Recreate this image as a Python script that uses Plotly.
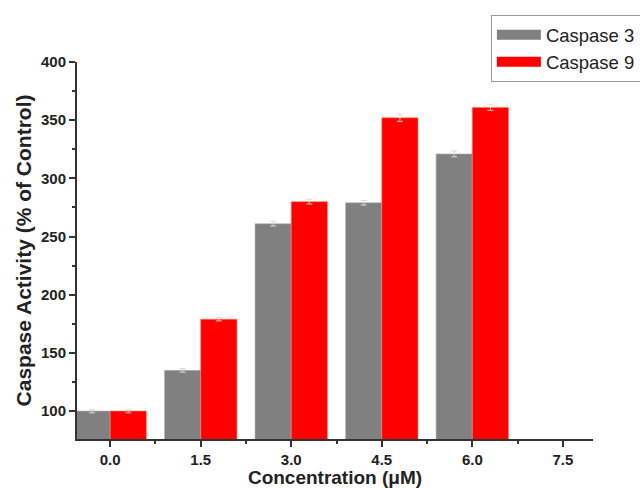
import plotly.graph_objects as go

concentrations = [0.0, 1.5, 3.0, 4.5, 6.0]
caspase3 = [100, 135, 261, 279, 321]
caspase9 = [100, 179, 280, 352, 361]
err3 = [1.5, 1.5, 2, 2, 2.5]
err9 = [1.5, 1.5, 2, 3, 2.5]
x_ticks = [0.0, 1.5, 3.0, 4.5, 6.0, 7.5]
y_ticks = [100, 150, 200, 250, 300, 350, 400]
series_names = ["Caspase 3", "Caspase 9"]
series_colors = ["#808080", "#ff0000"]

font_family = "Liberation Sans, Arial, sans-serif"

fig = go.Figure()
fig.add_trace(go.Bar(
    x=concentrations, y=caspase3, name=series_names[0], legendgroup="c3",
    showlegend=False,
    marker=dict(color=series_colors[0], line=dict(color="#b0b0b0", width=0.6)),
    error_y=dict(type="data", array=err3, color="#d8d8d8", thickness=1, width=3),
))
fig.add_trace(go.Bar(
    x=concentrations, y=caspase9, name=series_names[1], legendgroup="c9",
    showlegend=False,
    marker=dict(color=series_colors[1], line=dict(color="#ff8060", width=0.6)),
    error_y=dict(type="data", array=err9, color="#ffd0d0", thickness=1, width=3),
))
# legend entries drawn as wide rectangular swatches (thick line keys)
for name, color, grp in zip(series_names, series_colors, ["c3", "c9"]):
    fig.add_trace(go.Scatter(
        x=[None], y=[None], mode="lines", name=name, legendgroup=grp,
        line=dict(color=color, width=14), hoverinfo="skip",
    ))

fig.update_layout(
    width=640, height=488,
    margin=dict(l=77, r=47, t=62, b=49, autoexpand=False),
    paper_bgcolor="white", plot_bgcolor="white",
    barmode="group", bargap=0.2, bargroupgap=0,
    font=dict(family=font_family, color="#222"),
    showlegend=True,
    legend=dict(
        xref="container", yref="container",
        x=0.767, y=0.969, xanchor="left", yanchor="top",
        bordercolor="#999", borderwidth=1, bgcolor="white",
        font=dict(size=18.5, family=font_family, color="#222"),
        tracegroupgap=0, itemwidth=44,
    ),
    xaxis=dict(
        range=[-0.55, 8.0], tickmode="array", tickvals=x_ticks,
        ticktext=[f"{v:.1f}" for v in x_ticks],
        ticks="outside", ticklen=6, tickwidth=2, tickcolor="#333",
        showline=True, linecolor="#333", linewidth=2,
        showgrid=False, zeroline=False,
        tickfont=dict(size=15, family=font_family, weight="bold", color="#222"),
        minor=dict(tickvals=[0.75, 2.25, 3.75, 5.25, 6.75], ticks="outside",
                   ticklen=3, tickwidth=1.5, tickcolor="#333"),
        title=dict(text="Concentration (μM)", standoff=0,
                   font=dict(size=19, family=font_family, weight="bold", color="#222")),
    ),
    yaxis=dict(
        range=[76, 400], tickmode="array", tickvals=y_ticks,
        ticks="outside", ticklen=6, tickwidth=2, tickcolor="#333",
        showline=True, linecolor="#333", linewidth=2,
        showgrid=False, zeroline=False,
        tickfont=dict(size=15, family=font_family, weight="bold", color="#222"),
        minor=dict(tickvals=[125, 175, 225, 275, 325, 375], ticks="outside",
                   ticklen=3, tickwidth=1.5, tickcolor="#333"),
        title=dict(text="Caspase Activity (% of Control)", standoff=4,
                   font=dict(size=21, family=font_family, weight="bold", color="#222")),
    ),
)

fig.write_html("out.html", config={"displayModeBar": False})

# remove the browser's default page margin so the figure fills the window exactly
with open("out.html", "r", encoding="utf-8") as f:
    html = f.read()
html = html.replace("<body>", '<body style="margin:0;padding:0;overflow:hidden">', 1)
with open("out.html", "w", encoding="utf-8") as f:
    f.write(html)
